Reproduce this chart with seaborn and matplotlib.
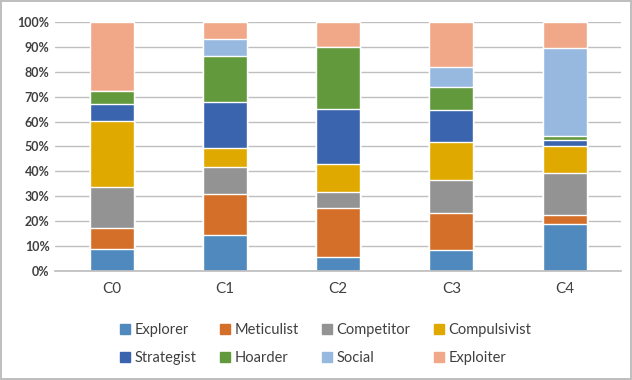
import numpy as np
import pandas as pd
import matplotlib.pyplot as plt
import seaborn as sns
from matplotlib.patches import Patch

# Data (percent of each cluster)
clusters = ["C0", "C1", "C2", "C3", "C4"]
types = ["Explorer", "Meticulist", "Competitor", "Compulsivist",
         "Strategist", "Hoarder", "Social", "Exploiter"]
explorer = [8.7, 14.3, 5.5, 8.4, 19.0]
meticulist = [8.6, 16.8, 19.8, 14.9, 3.5]
competitor = [16.5, 10.5, 6.5, 13.3, 16.8]
compulsivist = [26.4, 7.7, 11.2, 15.3, 11.0]
strategist = [6.7, 18.4, 22.1, 12.7, 2.2]
hoarder = [5.5, 18.8, 24.8, 9.5, 1.9]
social = [0.0, 6.7, 0.0, 7.8, 35.0]
exploiter = [27.6, 6.8, 10.1, 18.1, 10.6]

colors = ["#4F89BD", "#D46F29", "#939393", "#E0A900",
          "#3A64AD", "#62993D", "#97B9E0", "#F0A889"]

df = pd.DataFrame({"cluster": clusters, "Explorer": explorer, "Meticulist": meticulist,
                   "Competitor": competitor, "Compulsivist": compulsivist,
                   "Strategist": strategist, "Hoarder": hoarder,
                   "Social": social, "Exploiter": exploiter})

sns.set_theme(style="white")
plt.rcParams["font.family"] = ["Lato", "DejaVu Sans"]

fig = plt.figure(figsize=(6.32, 3.80), dpi=100)
fig.patch.set_edgecolor("#BFBFBF")
fig.patch.set_linewidth(1.5)
ax = fig.add_axes([0.087, 0.287, 0.896, 0.655])

# Stacked bars: draw cumulative totals from the top series down
cum = df[types].cumsum(axis=1)
for name, col in reversed(list(zip(types, colors))):
    sns.barplot(x=df["cluster"], y=cum[name], color=col, width=0.39,
                saturation=1, ax=ax, zorder=2)

ax.set_ylim(0, 100)
ax.set_xlim(-0.5, 4.5)
ax.set_yticks(np.arange(0, 101, 10))
ax.set_yticklabels([f"{v}%" for v in range(0, 101, 10)], fontsize=9,
                   fontweight="bold", color="#404040")
ax.tick_params(axis="x", labelsize=11, colors="#404040", length=0, pad=8)
ax.tick_params(axis="y", length=0, pad=4)
ax.set_xlabel("")
ax.set_ylabel("")
ax.yaxis.grid(True, color="#BFBFBF", linewidth=1, zorder=0)
ax.set_axisbelow(True)
for s in ["top", "right", "left"]:
    ax.spines[s].set_visible(False)
ax.spines["bottom"].set_color("#BFBFBF")

# Legend, row-major order in 2 rows x 4 columns
handles = [Patch(color=c, label=t) for t, c in zip(types, colors)]
order = [0, 4, 1, 5, 2, 6, 3, 7]
fig.legend([handles[i] for i in order], [types[i] for i in order],
           ncol=4, loc="center", bbox_to_anchor=(0.515, 0.095), frameon=False,
           fontsize=10.5, handlelength=0.7, handleheight=0.7, handletextpad=0.3,
           columnspacing=1.6, labelspacing=0.95, labelcolor="#404040")

plt.savefig("out.png", dpi=100)
